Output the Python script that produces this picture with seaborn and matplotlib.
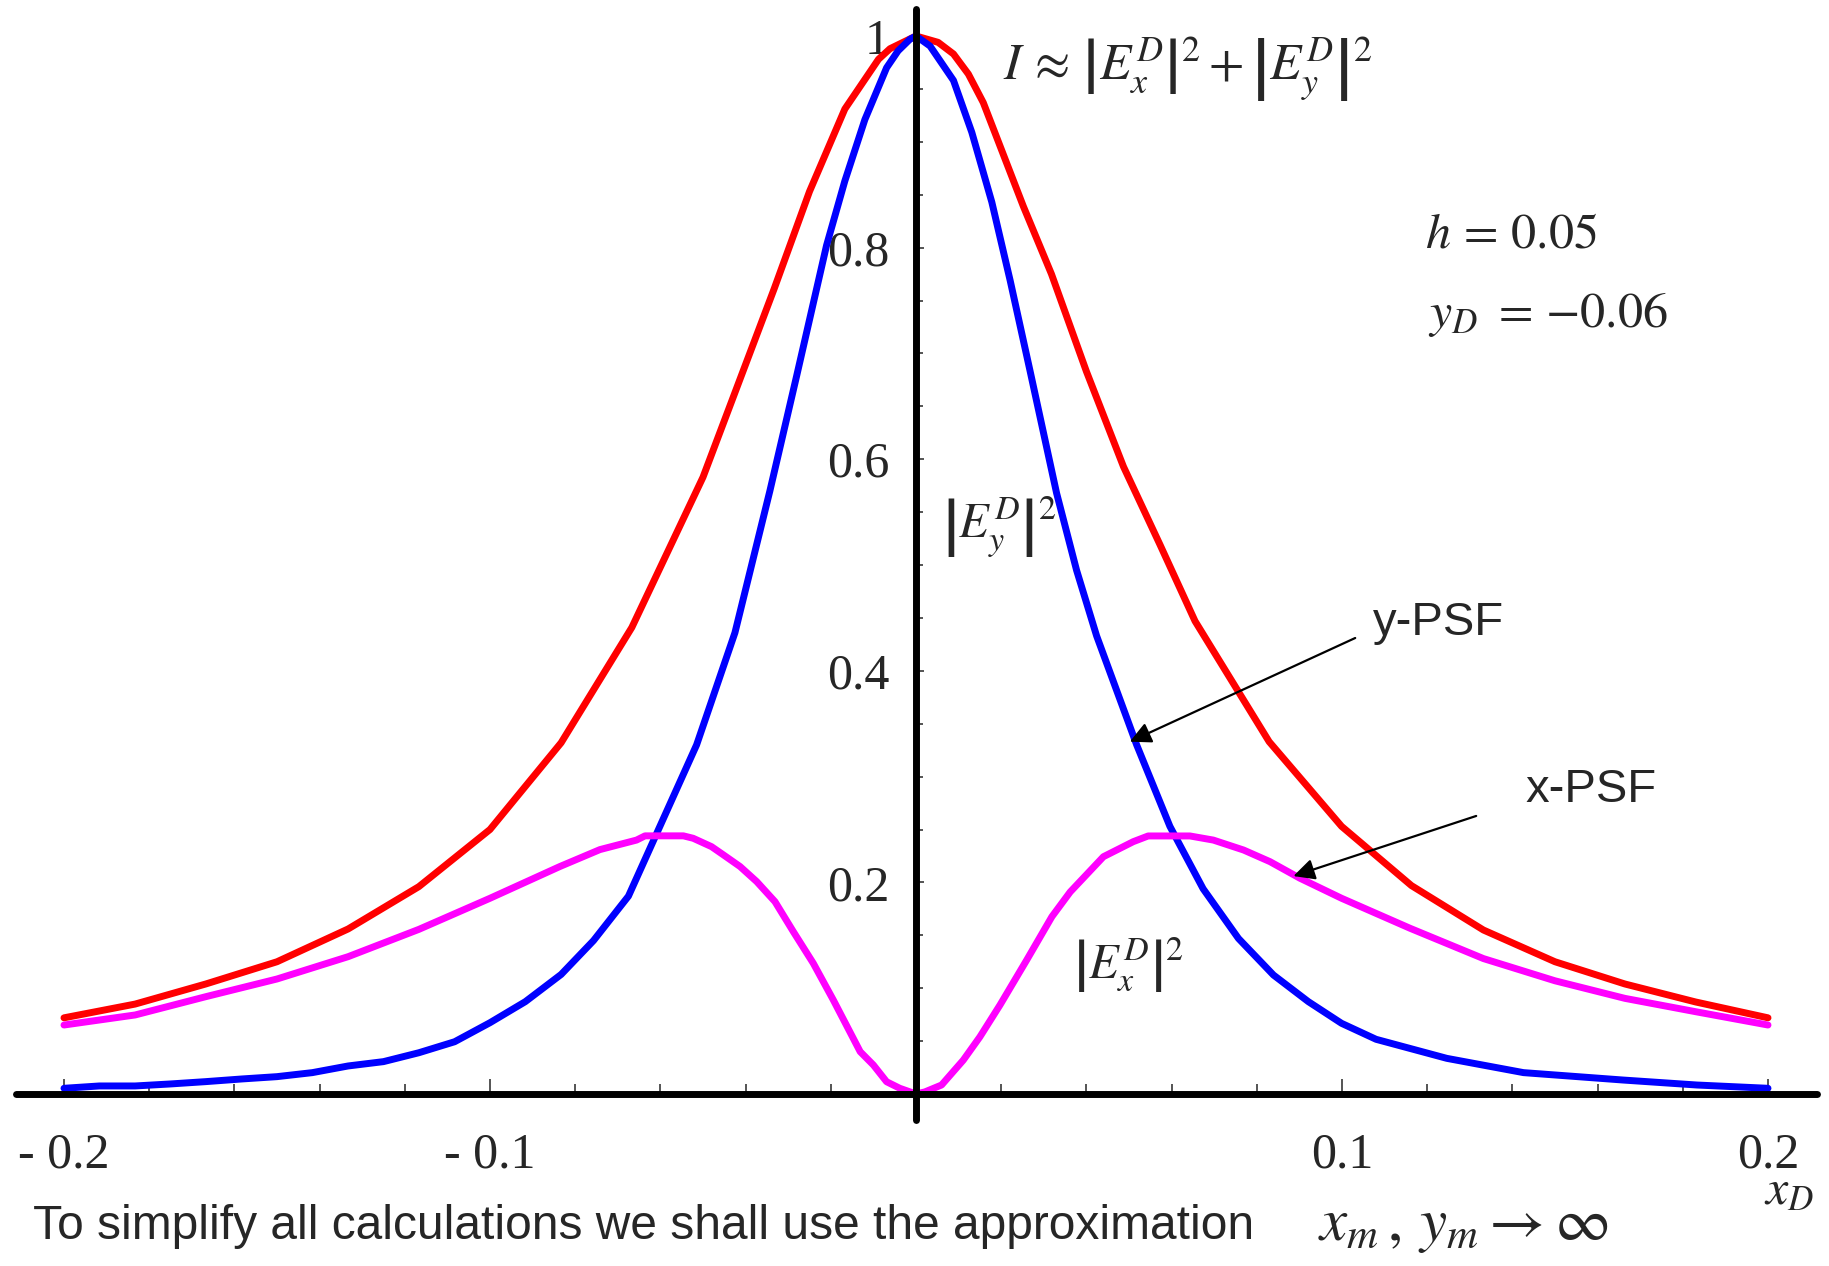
import numpy as np
import pandas as pd
import matplotlib
matplotlib.use("Agg")
import matplotlib.pyplot as plt
import seaborn as sns
from matplotlib.ticker import FixedLocator

# ---- data ----
x_total = [-0.2, -0.1833, -0.1667, -0.15, -0.1333, -0.1167, -0.1, -0.0833, -0.0667, -0.05,
           -0.0333, -0.025, -0.0167, -0.0088, -0.0061, 0.0, 0.0052, 0.0088, 0.0123, 0.0158,
           0.0252, 0.0318, 0.040, 0.0487, 0.0573, 0.0655, 0.0829, 0.0999, 0.1163, 0.1332,
           0.15, 0.1664, 0.1830, 0.2]
y_total = [0.072, 0.085, 0.104, 0.125, 0.156, 0.196, 0.250, 0.332, 0.441, 0.583,
           0.761, 0.853, 0.931, 0.978, 0.988, 1.0, 0.994, 0.983, 0.964, 0.937,
           0.839, 0.775, 0.683, 0.593, 0.519, 0.447, 0.333, 0.253, 0.197, 0.155,
           0.125, 0.104, 0.087, 0.072]

x_ypsf = [-0.2, -0.1917, -0.1833, -0.175, -0.1667, -0.1583, -0.15, -0.1417, -0.1333, -0.125,
          -0.1167, -0.1083, -0.1, -0.0917, -0.0833, -0.0757, -0.0675, -0.0515, -0.0425, -0.0343,
          -0.028, -0.021, -0.0167, -0.012, -0.0069, -0.0042, -0.0014, 0.0, 0.0033, 0.0088,
          0.0131, 0.0178, 0.0221, 0.0268, 0.033, 0.0377, 0.0424, 0.0518, 0.0596, 0.0674,
          0.0757, 0.0839, 0.0921, 0.0999, 0.108, 0.1246, 0.1426, 0.166, 0.1833, 0.2]
y_ypsf = [0.0054, 0.0076, 0.0076, 0.0095, 0.0117, 0.0142, 0.0164, 0.0202, 0.0265, 0.0306,
          0.039, 0.0494, 0.0674, 0.0873, 0.113, 0.145, 0.187, 0.330, 0.436, 0.570,
          0.679, 0.802, 0.863, 0.921, 0.970, 0.986, 0.997, 1.0, 0.9905, 0.958,
          0.909, 0.843, 0.769, 0.683, 0.568, 0.495, 0.433, 0.330, 0.253, 0.194,
          0.147, 0.1125, 0.0873, 0.0668, 0.0517, 0.0337, 0.0202, 0.0132, 0.0085, 0.0054]

x_xpsf = [-0.2, -0.1833, -0.1667, -0.15, -0.1333, -0.1167, -0.1, -0.0836, -0.0742, -0.0656,
          -0.0636, -0.0546, -0.0523, -0.048, -0.0452, -0.0413, -0.0374, -0.0331, -0.0288, -0.0241,
          -0.0194, -0.0131, -0.010, -0.0069, -0.0038, 0.0, 0.0021, 0.006, 0.0111, 0.015,
          0.0197, 0.026, 0.0319, 0.0362, 0.044, 0.051, 0.0545, 0.0643, 0.0698, 0.0769,
          0.0831, 0.0901, 0.0999, 0.116, 0.1332, 0.15, 0.1664, 0.183, 0.2]
y_xpsf = [0.0652, 0.0747, 0.092, 0.1087, 0.1298, 0.1556, 0.185, 0.215, 0.231, 0.240,
          0.244, 0.244, 0.2417, 0.2338, 0.226, 0.215, 0.2008, 0.1818, 0.1535, 0.1235,
          0.0888, 0.040, 0.0274, 0.0116, 0.0054, 0.0, 0.002, 0.0085, 0.032, 0.054,
          0.084, 0.1267, 0.1676, 0.191, 0.2243, 0.2385, 0.2439, 0.2439, 0.240, 0.2306,
          0.2196, 0.204, 0.185, 0.1566, 0.128, 0.107, 0.0904, 0.0778, 0.0652]

xtick_vals = [-0.2, -0.1, 0.1, 0.2]
xtick_labels = ["- 0.2", "- 0.1", "0.1", "0.2"]
xminor_vals = [-0.18, -0.16, -0.14, -0.12, -0.08, -0.06, -0.04, -0.02,
               0.02, 0.04, 0.06, 0.08, 0.12, 0.14, 0.16, 0.18]
ytick_vals = [0.2, 0.4, 0.6, 0.8, 1.0]
ytick_labels = ["0.2", "0.4", "0.6", "0.8", "1"]
yminor_vals = [0.05, 0.1, 0.15, 0.25, 0.3, 0.35, 0.45, 0.5, 0.55,
               0.65, 0.7, 0.75, 0.85, 0.9, 0.95]

# ---- style ----
sns.set_style("white")
plt.rcParams["font.family"] = ["Liberation Serif", "DejaVu Serif"]
plt.rcParams["mathtext.fontset"] = "stix"

fig = plt.figure(figsize=(18.29, 12.66), dpi=100)
ax = fig.add_axes([0, 0, 1, 1])
ax.set_xlim(-0.21502, 0.21432)
ax.set_ylim(-0.16257, 1.03403)
ax.patch.set_alpha(0)

df_t = pd.DataFrame({"x": x_total, "y": y_total})
df_y = pd.DataFrame({"x": x_ypsf, "y": y_ypsf})
df_x = pd.DataFrame({"x": x_xpsf, "y": y_xpsf})

lw = 5.0
sns.lineplot(data=df_t, x="x", y="y", color="#FF0000", lw=lw, estimator=None, ax=ax,
             solid_capstyle="round", solid_joinstyle="round", zorder=3)
sns.lineplot(data=df_y, x="x", y="y", color="#0000FF", lw=lw, estimator=None, ax=ax,
             solid_capstyle="round", solid_joinstyle="round", zorder=4)
sns.lineplot(data=df_x, x="x", y="y", color="#FF00FF", lw=lw, estimator=None, ax=ax,
             solid_capstyle="round", solid_joinstyle="round", zorder=5)
ax.set_xlabel("")
ax.set_ylabel("")

# ---- axes through origin ----
for s in ["top", "right"]:
    ax.spines[s].set_visible(False)
ax.spines["bottom"].set_position(("data", 0))
ax.spines["left"].set_position(("data", 0))
ax.spines["bottom"].set_bounds(-0.2113, 0.2115)
ax.spines["left"].set_bounds(-0.0246, 1.0255)
for s in ["bottom", "left"]:
    ax.spines[s].set_linewidth(5.0)
    ax.spines[s].set_color("black")
    ax.spines[s].set_capstyle("round")
    ax.spines[s].set_zorder(6)

ax.xaxis.set_major_locator(FixedLocator(xtick_vals))
ax.set_xticklabels(xtick_labels)
ax.xaxis.set_minor_locator(FixedLocator(xminor_vals))
ax.yaxis.set_major_locator(FixedLocator(ytick_vals))
ax.set_yticklabels(ytick_labels)
ax.yaxis.set_minor_locator(FixedLocator(yminor_vals))

ax.tick_params(axis="x", which="major", direction="in", length=11, width=1.1,
               pad=27, labelsize=36, bottom=True)
ax.tick_params(axis="x", which="minor", direction="in", length=7, width=1.1, bottom=True)
ax.tick_params(axis="y", which="major", direction="in", length=6, width=1.1,
               pad=19, labelsize=36, left=True)
ax.tick_params(axis="y", which="minor", direction="in", length=5, width=1.1, left=True)

# ---- annotations ----
ax.text(0.0204, 0.968, r"$I\,\approx\,\left|E_x^D\right|^2 + \left|E_y^D\right|^2$",
        fontsize=37, va="center", ha="left")
ax.text(0.1195, 0.800, r"$h\, =\, 0.05$", fontsize=36, va="baseline", ha="left")
ax.text(0.1202, 0.725, r"$y_D\ =\, {-}0.06$", fontsize=36, va="baseline", ha="left")
ax.text(0.0061, 0.536, r"$\left|E_y^D\right|^2$", fontsize=35, va="center", ha="left")
ax.text(0.0369, 0.122, r"$\left|E_x^D\right|^2$", fontsize=35, va="center", ha="left")

sans = ["Liberation Sans", "DejaVu Sans"]
ax.text(0.1073, 0.434, "y-PSF", fontsize=34, family=sans, va="baseline", ha="left")
ax.text(0.1430, 0.276, "x-PSF", fontsize=34, family=sans, va="baseline", ha="left")

arrow = dict(arrowstyle="-|>", color="black", lw=1.6, mutation_scale=32,
             shrinkA=0, shrinkB=0)
ax.annotate("", xy=(0.0502, 0.333), xytext=(0.1031, 0.431), arrowprops=arrow, zorder=7)
ax.annotate("", xy=(0.0886, 0.206), xytext=(0.1315, 0.2628), arrowprops=arrow, zorder=7)

ax.text(-0.2073, -0.137, "To simplify all calculations we shall use the approximation",
        fontsize=34.5, family=sans, va="baseline", ha="left")
ax.text(0.0944, -0.138, r"$x_m\,,\,y_m \rightarrow \infty$", fontsize=44,
        va="baseline", ha="left")
ax.text(0.1990, -0.104, r"$x_D$", fontsize=36, va="baseline", ha="left")

fig.savefig("out.png", dpi=100)
